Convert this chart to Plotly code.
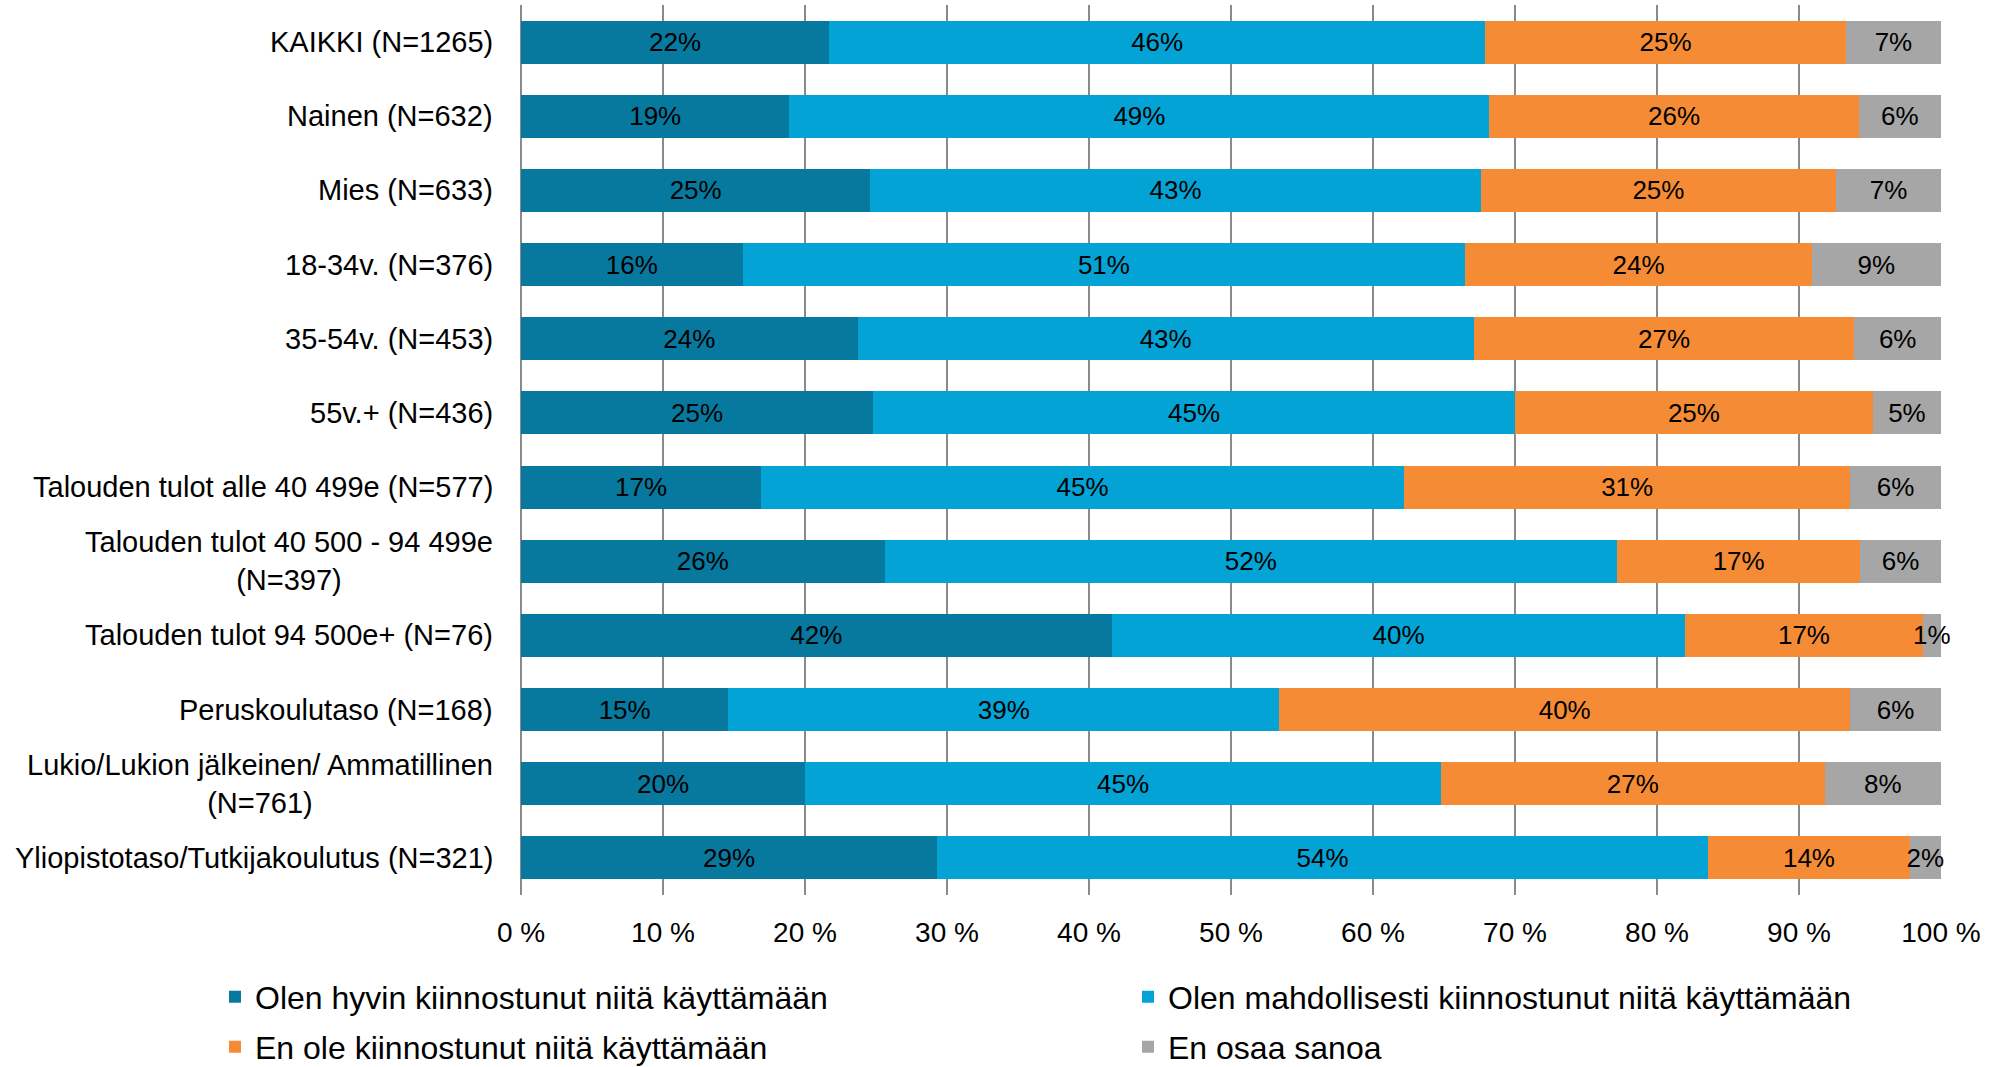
import plotly.graph_objects as go

categories = [
    "KAIKKI (N=1265)",
    "Nainen (N=632)",
    "Mies (N=633)",
    "18-34v. (N=376)",
    "35-54v. (N=453)",
    "55v.+ (N=436)",
    "Talouden tulot alle 40 499e (N=577)",
    "Talouden tulot 40 500 - 94 499e<br>(N=397)",
    "Talouden tulot 94 500e+ (N=76)",
    "Peruskoulutaso (N=168)",
    "Lukio/Lukion jälkeinen/ Ammatillinen<br>(N=761)",
    "Yliopistotaso/Tutkijakoulutus (N=321)",
]

hyvin = [21.7, 18.9, 24.6, 15.6, 23.7, 24.8, 16.9, 25.6, 41.6, 14.6, 20.0, 29.3]
mahdollisesti = [46.2, 49.3, 43.0, 50.9, 43.4, 45.2, 45.3, 51.6, 40.4, 38.8, 44.8, 54.3]
ei_kiinnostunut = [25.4, 26.0, 25.0, 24.4, 26.8, 25.2, 31.4, 17.1, 16.7, 40.2, 27.0, 14.2]
eos = [6.7, 5.8, 7.4, 9.1, 6.1, 4.8, 6.4, 5.7, 1.3, 6.4, 8.2, 2.2]

series_names = [
    "Olen hyvin kiinnostunut niitä käyttämään",
    "Olen mahdollisesti kiinnostunut niitä käyttämään",
    "En ole kiinnostunut niitä käyttämään",
    "En osaa sanoa",
]
series_values = [hyvin, mahdollisesti, ei_kiinnostunut, eos]
colors = ["#07799F", "#04A3D6", "#F58C35", "#A6A6A6"]
legend_ids = ["legend", "legend2", "legend3", "legend4"]

tick_vals = [0, 10, 20, 30, 40, 50, 60, 70, 80, 90, 100]
tick_text = ["0 %", "10 %", "20 %", "30 %", "40 %", "50 %", "60 %", "70 %", "80 %", "90 %", "100 %"]

FONT = "Liberation Sans, Arial, sans-serif"

fig = go.Figure()
for name, vals, col, lg in zip(series_names, series_values, colors, legend_ids):
    fig.add_trace(go.Bar(
        y=categories, x=vals, name=name, orientation="h",
        marker=dict(color=col, line=dict(width=0)),
        texttemplate="%{x:.0f}%",
        textposition="inside",
        insidetextanchor="middle",
        textangle=0,
        constraintext="none",
        textfont=dict(family=FONT, size=26, color="#000000"),
        cliponaxis=False,
        hoverinfo="skip",
        legend=lg,
    ))

for cat in categories:
    fig.add_annotation(
        x=0, xref="paper", y=cat, yref="y",
        text=cat, showarrow=False,
        xanchor="right", yanchor="middle", align="center",
        xshift=-26,
        font=dict(family=FONT, size=29, color="#000000"),
    )

legend_common = dict(
    orientation="h",
    xref="container", yref="paper",
    xanchor="left", yanchor="middle",
    font=dict(family=FONT, size=32, color="#000000"),
    itemclick=False, itemdoubleclick=False,
    bgcolor="rgba(0,0,0,0)",
)
# plot area bottom at 895 px, height 890 px
col_x = [215 / 1997, 1128 / 1997]
row_y = [(895 - 997) / 890, (895 - 1047) / 890]

fig.update_layout(
    width=1997, height=1067,
    barmode="stack",
    bargap=0.42,
    plot_bgcolor="white",
    paper_bgcolor="white",
    margin=dict(l=521, r=56, t=5, b=172, autoexpand=False),
    font=dict(family=FONT, color="#000000"),
    xaxis=dict(
        range=[0, 100.0001],
        tickvals=tick_vals, ticktext=tick_text,
        showgrid=True, gridcolor="#8A8A8A", gridwidth=2,
        zeroline=True, zerolinecolor="#8A8A8A", zerolinewidth=2,
        showline=False,
        ticks="", ticklabelstandoff=18,
        tickfont=dict(family=FONT, size=28, color="#000000"),
        fixedrange=True,
    ),
    yaxis=dict(
        categoryorder="array", categoryarray=categories,
        autorange="reversed",
        showticklabels=False, showgrid=False, zeroline=False,
        ticks="", fixedrange=True,
    ),
    legend=dict(legend_common, x=col_x[0], y=row_y[0]),
    legend2=dict(legend_common, x=col_x[1], y=row_y[0]),
    legend3=dict(legend_common, x=col_x[0], y=row_y[1]),
    legend4=dict(legend_common, x=col_x[1], y=row_y[1]),
    showlegend=True,
)

fig.write_html(
    "out.html",
    config={"displayModeBar": False},
    post_script="document.body.style.margin='0';",
)
